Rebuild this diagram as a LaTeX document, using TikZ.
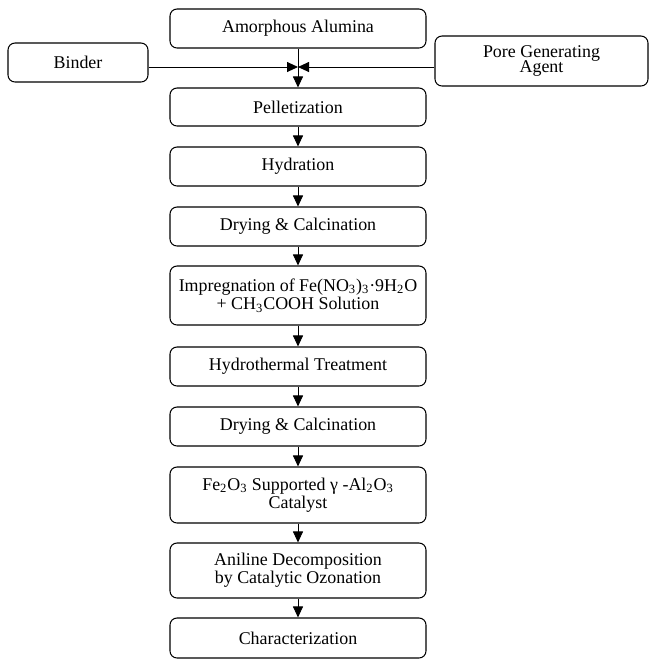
\documentclass[tikz,border=0pt]{standalone}
\usepackage{fontspec}
\setmainfont{Liberation Serif}
\usetikzlibrary{arrows.meta}

\tikzstyle{block}=[draw=black, line width=0.6pt, rounded corners=4pt, align=center, inner sep=1pt, minimum width=5.12cm, minimum height=0.78cm, font=\fontsize{10.2}{10.4}\selectfont]
\tikzstyle{sideBlock}=[block, minimum width=2.8cm]
\tikzstyle{arrowStyle}=[line width=0.5pt, -{Triangle[length=0.22cm, width=0.2cm]}]

\begin{document}
\begin{tikzpicture}

	\useasboundingbox (0,0) rectangle (13,-13.18);

	% Eingang
	\node(alumina) at (5.96,-0.57) [block] {Amorphous Alumina};
	\node(binder) at (1.56,-1.25) [sideBlock] {Binder};
	\node(pore) at (10.83,-1.22) [sideBlock, minimum width=4.26cm, minimum height=1.0cm] {Pore Generating\\[-1.5pt]Agent};
	\coordinate(join) at (5.96,-1.34);

	% Hauptspalte
	\node(pellet) at (5.96,-2.14) [block, minimum height=0.76cm] {Pelletization};
	\node(hydr) at (5.96,-3.33) [block] {Hydration};
	\node(dry) at (5.96,-4.53) [block] {Drying \& Calcination};
	\node(impr) at (5.96,-5.91) [block, minimum height=1.18cm] {Impregnation of Fe(NO\textsubscript{3})\textsubscript{3}·9H\textsubscript{2}O\\+ CH\textsubscript{3}COOH Solution};
	\node(hydro) at (5.96,-7.33) [block] {Hydrothermal Treatment};
	\node(dryb) at (5.96,-8.53) [block] {Drying \& Calcination};
	\node(cat) at (5.96,-9.90) [block, minimum height=1.12cm] {Fe\textsubscript{2}O\textsubscript{3} Supported γ -Al\textsubscript{2}O\textsubscript{3}\\Catalyst};
	\node(anil) at (5.96,-11.41) [block, minimum height=1.10cm] {Aniline Decomposition\\by Catalytic Ozonation};
	\node(char) at (5.96,-12.76) [block, minimum height=0.80cm] {Characterization};

	% Pfeile
	\draw[arrowStyle] (alumina) -- (pellet);
	\draw[arrowStyle] (binder.east |- join) -- (join);
	\draw[arrowStyle] (pore.west |- join) -- (join);
	\foreach \a/\b in {pellet/hydr, hydr/dry, dry/impr, impr/hydro, hydro/dryb, dryb/cat, cat/anil, anil/char}
		{
			\draw[arrowStyle] (\a) -- (\b);
		}

\end{tikzpicture}
\end{document}
